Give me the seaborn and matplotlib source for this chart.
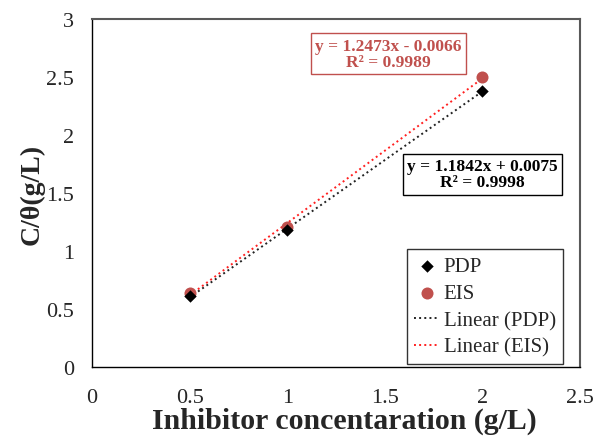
import matplotlib
matplotlib.use('Agg')
import matplotlib.pyplot as plt
import seaborn as sns
import numpy as np

# data
conc = [0.5, 1.0, 2.0]
pdp = [0.61, 1.18, 2.38]
eis = [0.64, 1.21, 2.50]
# trendline coefficients (from the chart's equation labels)
pdp_fit = (1.1842, 0.0075, 0.9998)
eis_fit = (1.2473, -0.0066, 0.9989)

xticks = [0, 0.5, 1, 1.5, 2, 2.5]
yticks = [0, 0.5, 1, 1.5, 2, 2.5, 3]

red = '#C0504D'

sns.set_style('white')
plt.rcParams['font.family'] = ['Liberation Serif', 'DejaVu Serif']
plt.rcParams['xtick.direction'] = 'out'
plt.rcParams['ytick.direction'] = 'out'

fig = plt.figure(figsize=(5.95, 4.39), dpi=100)
ax = fig.add_axes([92 / 595, 1 - 368 / 439, 488 / 595, 348 / 439])

sns.scatterplot(x=conc, y=pdp, ax=ax, marker='D', color='black', s=40, edgecolor='black',
                linewidth=0, label='PDP', zorder=5)
sns.scatterplot(x=conc, y=eis, ax=ax, marker='o', color=red, s=75, edgecolor=red,
                linewidth=0, label='EIS', zorder=4)

xs = np.array([min(conc), max(conc)])
sns.lineplot(x=xs, y=pdp_fit[0] * xs + pdp_fit[1], ax=ax, color='#222222', linestyle=':',
             linewidth=1.4, label='Linear (PDP)')
sns.lineplot(x=xs, y=eis_fit[0] * xs + eis_fit[1], ax=ax, color='#FF2020', linestyle=':',
             linewidth=1.4, label='Linear (EIS)')

ax.set_xlim(0, 2.5)
ax.set_ylim(0, 3)
ax.set_xticks(xticks, ['0', '0.5', '1', '1.5', '2', '2.5'], fontsize=16)
ax.set_yticks(yticks, ['0', '0.5', '1', '1.5', '2', '2.5', '3'], fontsize=16)
ax.tick_params(axis='both', length=6, width=1, color='black')
ax.tick_params(axis='x', pad=9)
ax.tick_params(axis='y', pad=7)

for s in ['left', 'bottom']:
    ax.spines[s].set_color('black')
    ax.spines[s].set_linewidth(1)
for s in ['top', 'right']:
    ax.spines[s].set_color('#595959')
    ax.spines[s].set_linewidth(1.5)

ax.set_xlabel('Inhibitor concentaration (g/L)', fontsize=21.5, fontweight='bold', labelpad=0)
ax.xaxis.label.set_x(0.518)
ax.set_ylabel('C/θ(g/L)', fontsize=20, fontweight='bold', labelpad=1)

ax.text(1.52, 2.70, 'y = {:.4f}x - {:.4f}\nR² = {:.4f}'.format(eis_fit[0], -eis_fit[1], eis_fit[2]),
        ha='center', va='center', fontsize=12.5, fontweight='bold', color=red, linespacing=1.0,
        bbox=dict(boxstyle='square,pad=0.25', facecolor='white', edgecolor=red, linewidth=1))
ax.text(2.0, 1.66, 'y = {:.4f}x + {:.4f}\nR² = {:.4f}'.format(pdp_fit[0], pdp_fit[1], pdp_fit[2]),
        ha='center', va='center', fontsize=12.5, fontweight='bold', color='black', linespacing=1.0,
        bbox=dict(boxstyle='square,pad=0.25', facecolor='white', edgecolor='black', linewidth=1))

leg = ax.legend(loc='lower right', bbox_to_anchor=(0.965, 0.008), fontsize=15, frameon=True,
                fancybox=False, edgecolor='black', handlelength=1.2, handletextpad=0.2,
                borderpad=0.35, labelspacing=0.35, borderaxespad=0)
leg.get_frame().set_linewidth(1)

plt.savefig('out.png', dpi=100)
